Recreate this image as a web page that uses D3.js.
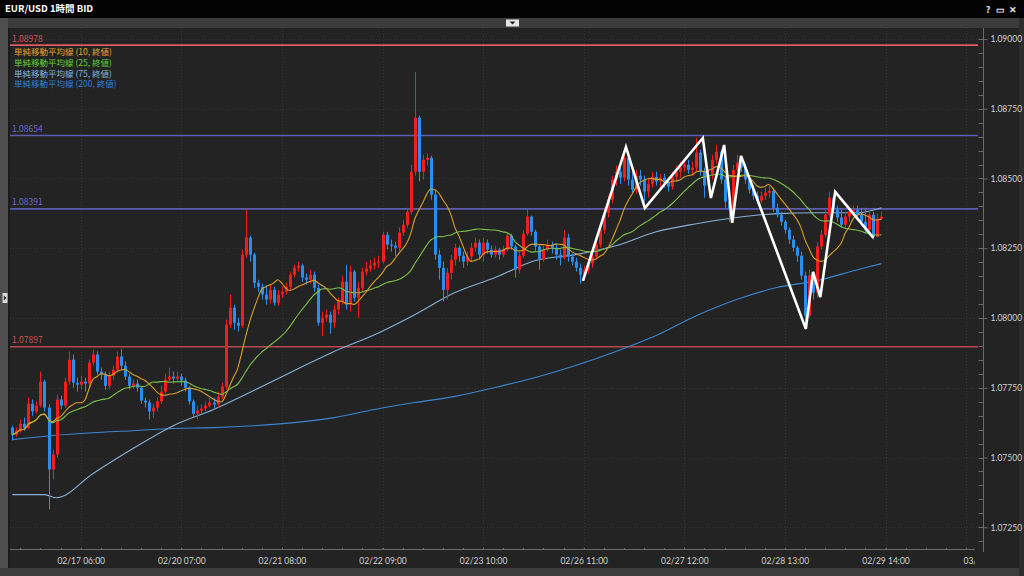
<!DOCTYPE html>
<html><head><meta charset="utf-8">
<script src="https://cdn.jsdelivr.net/npm/d3@7"></script>
<style>
html,body{margin:0;padding:0;background:#000;overflow:hidden}
svg{display:block;font-family:"Noto Sans CJK JP","Noto Sans",sans-serif}
</style></head><body>
<svg id="c" width="1024" height="576"></svg>
<script>
// ---------- data ----------
const titleText = "EUR/USD 1時間 BID";
const open0 = 1.07607;
const closes = [
1.07582,1.07596,1.07621,1.07607,1.07693,1.07665,1.07686,1.07772,1.07679,1.07457,
1.07511,1.07708,1.07686,1.07772,1.07851,1.07768,1.07761,1.07772,1.07765,1.07840,
1.07869,1.07808,1.07797,1.07757,1.07793,1.07815,1.07862,1.07829,1.07790,1.07757,
1.07765,1.07750,1.07704,1.07697,1.07665,1.07679,1.07701,1.07736,1.07779,1.07790,
1.07783,1.07790,1.07776,1.07750,1.07701,1.07657,1.07668,1.07675,1.07686,1.07697,
1.07690,1.07718,1.07754,1.07976,1.08037,1.07983,1.07972,1.08227,1.08288,1.08227,
1.08126,1.08112,1.08084,1.08066,1.08101,1.08055,1.08084,1.08094,1.08112,1.08155,
1.08180,1.08188,1.08145,1.08137,1.08155,1.08108,1.07983,1.08001,1.08012,1.07983,
1.08030,1.08059,1.08130,1.08048,1.08166,1.08073,1.08108,1.08166,1.08177,1.08188,
1.08198,1.08202,1.08298,1.08263,1.08259,1.08252,1.08306,1.08334,1.08381,1.08524,
1.08718,1.08524,1.08567,1.08574,1.08442,1.08227,1.08180,1.08101,1.08162,1.08209,
1.08252,1.08223,1.08202,1.08220,1.08252,1.08270,1.08227,1.08270,1.08245,1.08227,
1.08245,1.08227,1.08245,1.08295,1.08256,1.08173,1.08223,1.08302,1.08363,1.08309,
1.08256,1.08209,1.08245,1.08263,1.08252,1.08227,1.08216,1.08288,1.08220,1.08202,
1.08180,1.08155,1.08173,1.08195,1.08220,1.08263,1.08316,1.08377,1.08424,1.08496,
1.08524,1.08503,1.08574,1.08496,1.08460,1.08510,1.08496,1.08453,1.08481,1.08506,
1.08489,1.08503,1.08485,1.08471,1.08506,1.08524,1.08539,1.08549,1.08531,1.08539,
1.08593,1.08524,1.08474,1.08513,1.08567,1.08596,1.08496,1.08417,1.08388,1.08531,
1.08556,1.08539,1.08496,1.08460,1.08438,1.08420,1.08438,1.08449,1.08456,1.08395,
1.08370,1.08345,1.08316,1.08281,1.08252,1.08223,1.08152,1.08008,1.08152,1.08091,
1.08256,1.08298,1.08370,1.08431,1.08388,1.08360,1.08334,1.08363,1.08381,1.08388,
1.08370,1.08345,1.08316,1.08370,1.08291,1.08356,1.08363];
const highs = [
1.07614,1.07607,1.07636,1.07643,1.07715,1.07708,1.07701,1.07808,1.07779,1.07690,
1.07528,1.07725,1.07722,1.07786,1.07880,1.07869,1.07786,1.07793,1.07786,1.07851,
1.07887,1.07880,1.07822,1.07808,1.07808,1.07829,1.07880,1.07890,1.07844,1.07801,
1.07779,1.07779,1.07757,1.07715,1.07708,1.07693,1.07715,1.07757,1.07801,1.07822,
1.07808,1.07808,1.07801,1.07786,1.07757,1.07708,1.07686,1.07690,1.07701,1.07715,
1.07715,1.07736,1.07768,1.07994,1.08084,1.08048,1.08001,1.08245,1.08388,1.08295,
1.08234,1.08137,1.08123,1.08116,1.08119,1.08112,1.08101,1.08112,1.08127,1.08166,
1.08191,1.08202,1.08195,1.08159,1.08173,1.08166,1.08119,1.08023,1.08030,1.08023,
1.08048,1.08073,1.08152,1.08191,1.08188,1.08173,1.08130,1.08180,1.08202,1.08209,
1.08216,1.08223,1.08309,1.08309,1.08281,1.08273,1.08324,1.08352,1.08395,1.08549,
1.08882,1.08725,1.08585,1.08589,1.08582,1.08460,1.08245,1.08202,1.08180,1.08227,
1.08266,1.08259,1.08238,1.08238,1.08270,1.08288,1.08281,1.08288,1.08281,1.08259,
1.08259,1.08252,1.08259,1.08309,1.08302,1.08263,1.08238,1.08316,1.08388,1.08367,
1.08316,1.08263,1.08259,1.08281,1.08273,1.08266,1.08245,1.08316,1.08302,1.08231,
1.08216,1.08195,1.08188,1.08209,1.08234,1.08281,1.08331,1.08395,1.08438,1.08510,
1.08546,1.08539,1.08610,1.08585,1.08524,1.08531,1.08531,1.08510,1.08503,1.08524,
1.08524,1.08517,1.08517,1.08503,1.08524,1.08546,1.08560,1.08574,1.08567,1.08560,
1.08646,1.08603,1.08539,1.08531,1.08585,1.08621,1.08603,1.08510,1.08431,1.08549,
1.08585,1.08574,1.08553,1.08510,1.08474,1.08453,1.08453,1.08467,1.08474,1.08467,
1.08410,1.08381,1.08352,1.08324,1.08295,1.08259,1.08238,1.08166,1.08173,1.08166,
1.08273,1.08316,1.08388,1.08453,1.08438,1.08403,1.08388,1.08381,1.08399,1.08403,
1.08403,1.08395,1.08395,1.08388,1.08381,1.08374,1.08381];
const lows = [
1.07561,1.07575,1.07589,1.07596,1.07600,1.07650,1.07657,1.07679,1.07665,1.07314,
1.07421,1.07500,1.07672,1.07679,1.07761,1.07750,1.07736,1.07743,1.07736,1.07750,
1.07829,1.07797,1.07779,1.07743,1.07743,1.07779,1.07804,1.07815,1.07779,1.07743,
1.07747,1.07736,1.07693,1.07679,1.07636,1.07643,1.07665,1.07693,1.07729,1.07772,
1.07765,1.07768,1.07757,1.07736,1.07690,1.07643,1.07636,1.07657,1.07665,1.07679,
1.07672,1.07679,1.07708,1.07743,1.07965,1.07958,1.07951,1.07965,1.08216,1.08202,
1.08108,1.08094,1.08066,1.08048,1.08051,1.08044,1.08044,1.08073,1.08084,1.08101,
1.08145,1.08166,1.08130,1.08119,1.08123,1.08094,1.07972,1.07936,1.07987,1.07944,
1.07965,1.08012,1.08048,1.08030,1.08023,1.08059,1.08001,1.08094,1.08152,1.08166,
1.08173,1.08180,1.08195,1.08245,1.08238,1.08223,1.08238,1.08295,1.08324,1.08370,
1.08510,1.08489,1.08496,1.08546,1.08424,1.08209,1.08137,1.08059,1.08066,1.08137,
1.08188,1.08202,1.08180,1.08188,1.08202,1.08238,1.08209,1.08202,1.08231,1.08216,
1.08216,1.08209,1.08216,1.08238,1.08245,1.08145,1.08159,1.08216,1.08295,1.08295,
1.08238,1.08173,1.08202,1.08238,1.08231,1.08209,1.08188,1.08209,1.08202,1.08188,
1.08166,1.08123,1.08137,1.08159,1.08180,1.08209,1.08252,1.08302,1.08360,1.08410,
1.08474,1.08481,1.08489,1.08474,1.08446,1.08446,1.08474,1.08417,1.08431,1.08467,
1.08474,1.08467,1.08467,1.08453,1.08460,1.08489,1.08503,1.08524,1.08517,1.08510,
1.08524,1.08510,1.08431,1.08460,1.08496,1.08553,1.08481,1.08395,1.08345,1.08374,
1.08524,1.08524,1.08481,1.08446,1.08424,1.08410,1.08410,1.08424,1.08431,1.08381,
1.08360,1.08331,1.08302,1.08266,1.08238,1.08202,1.08137,1.07958,1.08001,1.08066,
1.08073,1.08245,1.08288,1.08360,1.08374,1.08345,1.08324,1.08324,1.08345,1.08367,
1.08352,1.08331,1.08302,1.08302,1.08281,1.08288,1.08352];

const ma75Index  = [0,8,11,20,30,40,50,60,70,80,90,100,110,120,130,140,150,160,170,180,190,200,210,216];
const ma75Values = [1.07367,1.07367,1.07356,1.07442,1.07532,1.07614,1.07672,1.07740,1.07811,1.07880,1.07940,1.08012,
                    1.08091,1.08145,1.08206,1.08227,1.08259,1.08309,1.08338,1.08360,1.08374,1.08377,1.08377,1.08395];
const ma200Index  = [0,10,20,30,40,50,60,70,80,90,100,110,120,130,140,150,160,170,180,190,200,210,216];
const ma200Values = [1.07564,1.07579,1.07589,1.07596,1.07604,1.07607,1.07614,1.07625,1.07643,1.07672,1.07697,1.07719,
                     1.07751,1.07787,1.07830,1.07880,1.07937,1.08008,1.08066,1.08109,1.08134,1.08173,1.08195];
const legendLabels = ["単純移動平均線 (10, 終値)","単純移動平均線 (25, 終値)","単純移動平均線 (75, 終値)","単純移動平均線 (200, 終値)"];

const levelValues = [1.08978, 1.08654, 1.08391, 1.07897];
const levelLabels = ["1.08978","1.08654","1.08391","1.07897"];

const zigIndex  = [141.8,152.5,157.2,171.6,173.6,176.9,178.9,181.1,197.2,199,200.8,204.5,214];
const zigValues = [1.08133,1.08613,1.08394,1.08645,1.08430,1.08620,1.08341,1.08581,1.07961,1.08165,1.08075,1.08452,1.08287];

const xTickIndex  = [17,42,67,92,117,142,167,192,217,237];
const xTickLabels = ["02/17 06:00","02/20 07:00","02/21 08:00","02/22 09:00","02/23 10:00","02/26 11:00","02/27 12:00","02/28 13:00","02/29 14:00","03/01 15:00"];
const yTickValues = [1.0900,1.0875,1.0850,1.0825,1.0800,1.0775,1.0750,1.0725];

// ---------- styles ----------
const COL_UP = "#f41c1c", COL_DN = "#2a8ef0";
const maColors = ["#d9a02a","#7cc04a","#88b0d6","#3a86d2"];
const legendColors = ["#e0a236","#5fcf3a","#7fb2e2","#2d7fd6"];
const levelColors = ["#e25a60","#5d5cb4","#5d5cb4","#b8484c"];
const levelTextColors = ["#d9525a","#6d6ccc","#6d6ccc","#c8545a"];

// ---------- layout ----------
const svg = d3.select("#c");
const PL = 10, PR = 978, PT = 28, PB = 548;
const x = d3.scaleLinear().domain([0, 237]).range([12.3, 12.3 + 4.024*237]);
const y = d3.scaleLinear().domain([1.07175, 1.0904]).range([548.2, 27.8]);

// frame
svg.append("rect").attr("x",0).attr("y",0).attr("width",1024).attr("height",576).attr("fill","#232323");
svg.append("rect").attr("x",0).attr("y",0).attr("width",1024).attr("height",18).attr("fill","#030303");
svg.append("rect").attr("x",0).attr("y",18).attr("width",1024).attr("height",10).attr("fill","#3b3b3b");
svg.append("rect").attr("x",0).attr("y",18).attr("width",8).attr("height",558).attr("fill","#4e4e4e");
svg.append("rect").attr("x",8).attr("y",28).attr("width",2).attr("height",540).attr("fill","#1a1a1a");
svg.append("rect").attr("x",0).attr("y",568).attr("width",1024).attr("height",8).attr("fill","#3c3c3c");
svg.append("rect").attr("x",1019).attr("y",18).attr("width",5).attr("height",558).attr("fill","#2c2c2c");
svg.append("text").attr("x",5).attr("y",12).attr("fill","#fff").attr("font-size",9.5).attr("font-weight","bold").text(titleText);
[["?",988],["▭",1000],["✕",1013]].forEach(([t,px])=>svg.append("text").attr("x",px).attr("y",12.5).attr("fill","#e8e8e8")
  .attr("font-size",9).attr("font-weight","bold").attr("text-anchor","middle").text(t));
svg.append("rect").attr("x",506).attr("y",19.5).attr("width",13).attr("height",7).attr("fill","#e6e6e6");
svg.append("path").attr("d","M509.5,21.5 L515.5,21.5 L512.5,24.5 Z").attr("fill","#222");
svg.append("rect").attr("x",2.5).attr("y",293).attr("width",5).attr("height",10).attr("fill","#d8d8d8");
svg.append("path").attr("d","M3.8,295.5 L6.5,298 L3.8,300.5 Z").attr("fill","#222");

// clip
svg.append("defs").append("clipPath").attr("id","plot").append("rect")
  .attr("x",PL).attr("y",PT).attr("width",PR-PL).attr("height",PB-PT);
svg.append("defs").append("clipPath").attr("id","xax").append("rect")
  .attr("x",PL).attr("y",PB).attr("width",975-PL).attr("height",20);

// grid
const grid = svg.append("g").attr("clip-path","url(#plot)");
grid.selectAll("line.gy").data(yTickValues).join("line")
  .attr("x1",PL).attr("x2",PR).attr("y1",d=>Math.round(y(d))+0.5).attr("y2",d=>Math.round(y(d))+0.5)
  .attr("stroke","#343434").attr("stroke-dasharray","1,2");
grid.selectAll("line.gx").data(xTickIndex).join("line")
  .attr("y1",PT).attr("y2",PB).attr("x1",d=>Math.round(x(d))+0.5).attr("x2",d=>Math.round(x(d))+0.5)
  .attr("stroke","#343434").attr("stroke-dasharray","1,2");

const plot = svg.append("g").attr("clip-path","url(#plot)");

// level lines
levelValues.forEach((v,k)=>{
  plot.append("line").attr("x1",PL).attr("x2",PR).attr("y1",y(v)).attr("y2",y(v))
    .attr("stroke",levelColors[k]).attr("stroke-width",1.6);
  svg.append("text").attr("x",12).attr("y",y(v)-3.5).attr("fill",levelTextColors[k])
    .attr("font-size",8.5).text(levelLabels[k]);
});

// MA lines
const ma10 = closes.map((c,i)=>d3.mean(closes.slice(Math.max(0,i-9),i+1)));
const ma25 = closes.map((c,i)=>d3.mean(closes.slice(Math.max(0,i-24),i+1)));
const lineIdx = d3.line().x((d,i)=>x(i)).y(d=>y(d)).curve(d3.curveMonotoneX);
const linePair = d3.line().x(d=>x(d[0])).y(d=>y(d[1])).curve(d3.curveMonotoneX);
plot.append("path").attr("d",linePair(d3.zip(ma200Index,ma200Values))).attr("fill","none").attr("stroke",maColors[3]).attr("stroke-width",1.1);
plot.append("path").attr("d",linePair(d3.zip(ma75Index,ma75Values))).attr("fill","none").attr("stroke",maColors[2]).attr("stroke-width",1.1);

// candles
const opens = closes.map((c,i)=> i===0 ? open0 : closes[i-1]);
const cg = plot.append("g");
cg.selectAll("line.w").data(closes).join("line")
  .attr("x1",(d,i)=>Math.round(x(i))+0.5).attr("x2",(d,i)=>Math.round(x(i))+0.5)
  .attr("y1",(d,i)=>y(highs[i])).attr("y2",(d,i)=>y(lows[i]))
  .attr("stroke",(d,i)=>d>=opens[i]?COL_UP:COL_DN).attr("stroke-width",1);
cg.selectAll("rect.b").data(closes).join("rect")
  .attr("x",(d,i)=>Math.round(x(i))-1).attr("width",3)
  .attr("y",(d,i)=>y(Math.max(d,opens[i])))
  .attr("height",(d,i)=>Math.max(1,Math.abs(y(d)-y(opens[i]))))
  .attr("fill",(d,i)=>d>=opens[i]?COL_UP:COL_DN);

plot.append("path").attr("d",lineIdx(ma25)).attr("fill","none").attr("stroke",maColors[1]).attr("stroke-width",1.1);
plot.append("path").attr("d",lineIdx(ma10)).attr("fill","none").attr("stroke",maColors[0]).attr("stroke-width",1.1);

// zigzag annotation
plot.append("path").attr("d",d3.line().x(d=>x(d[0])).y(d=>y(d[1]))(d3.zip(zigIndex,zigValues)))
  .attr("fill","none").attr("stroke","#ffffff").attr("stroke-width",2.6).attr("stroke-linejoin","miter");

// legend
legendLabels.forEach((t,k)=>svg.append("text").attr("x",14).attr("y",55+k*10.8)
  .attr("fill",legendColors[k]).attr("font-size",8.5).text(t));

// y axis
const yAxisMinor = d3.range(1.0720, 1.0905, 0.0005);
const yax = svg.append("g").attr("transform","translate(983.5,0)");
yax.append("line").attr("y1",PT).attr("y2",552).attr("stroke","#6a6a6a");
yax.selectAll("line.t").data(yAxisMinor.filter(v=>y(v)>PT && y(v)<PB)).join("line")
  .attr("x1",-5).attr("x2",0).attr("y1",d=>Math.round(y(d))+0.5).attr("y2",d=>Math.round(y(d))+0.5).attr("stroke","#6a6a6a");
const yAxis = d3.axisRight(y).tickValues(yTickValues).tickFormat(d3.format(".5f")).tickSize(4).tickPadding(3);
const ya2 = svg.append("g").attr("transform","translate(983.5,0)").call(yAxis);
ya2.select(".domain").remove();
ya2.selectAll("line").attr("stroke","#6a6a6a");
ya2.selectAll("text").attr("fill","#d0d0d0").attr("font-size",8.5).attr("font-family","Lato, 'Noto Sans', sans-serif");

// x axis
const xax = svg.append("g").attr("clip-path","url(#xax)");
xax.append("line").attr("x1",PL).attr("x2",978).attr("y1",549.5).attr("y2",549.5).attr("stroke","#6a6a6a");
const minorX = d3.range(2, 238, 5);
xax.selectAll("line.m").data(minorX).join("line")
  .attr("x1",d=>Math.round(x(d))+0.5).attr("x2",d=>Math.round(x(d))+0.5).attr("y1",546).attr("y2",549.5).attr("stroke","#6a6a6a");
const xAxis = d3.axisBottom(x).tickValues(xTickIndex).tickFormat((d,i)=>xTickLabels[i]).tickSize(-6).tickPadding(8);
const xa2 = xax.append("g").attr("transform","translate(0,549.5)").call(xAxis);
xa2.select(".domain").remove();
xa2.selectAll("line").attr("stroke","#6a6a6a");
xa2.selectAll("text").attr("fill","#d0d0d0").attr("font-size",8.5).attr("font-family","Lato, 'Noto Sans', sans-serif");
// last label starts at its tick (as in the reference, cut by the axis panel)
xa2.selectAll(".tick").filter(d=>d===237).select("text").attr("text-anchor","start").attr("dx",-3);
</script>
</body></html>
